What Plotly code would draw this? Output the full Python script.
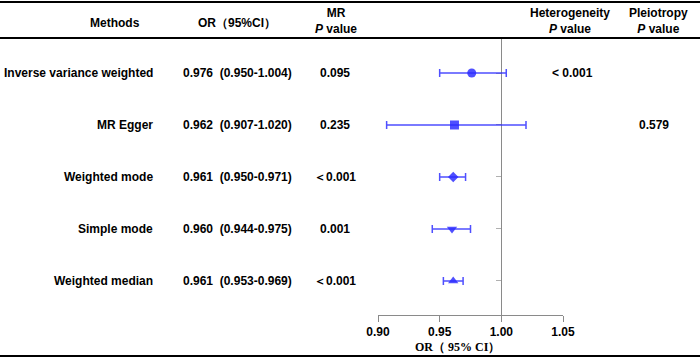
import plotly.graph_objects as go

# ---------------- data ----------------
methods = ["Inverse variance weighted", "MR Egger", "Weighted mode", "Simple mode", "Weighted median"]
or_vals = [0.976, 0.962, 0.961, 0.960, 0.961]
ci_low = [0.950, 0.907, 0.950, 0.944, 0.953]
ci_high = [1.004, 1.020, 0.971, 0.975, 0.969]
mr_p = ["0.095", "0.235", "＜0.001", "0.001", "＜0.001"]
het_p = ["< 0.001", "", "", "", ""]
pleio_p = ["", "0.579", "", "", ""]
x_ticks = [0.90, 0.95, 1.00, 1.05]
x_tick_labels = ["0.90", "0.95", "1.00", "1.05"]
ref_value = 1.00

# ---------------- layout constants ----------------
W, H = 700, 359
L, R, T, B = 378, 137, 38, 44
plot_w = W - L - R
plot_h = H - T - B
rows = list(range(1, len(methods) + 1))
y_range = [5.654, 0.327]
x_range = [0.90, 1.05]


def px_x(px):
    return (px - L) / plot_w


def px_y(py):
    return (H - B - py) / plot_h


symbols = ["circle", "square", "diamond", "triangle-down", "triangle-up"]
sizes = [9, 9, 8, 9, 9]
blue = "rgba(40,40,255,0.82)"

fig = go.Figure()
for i, m in enumerate(methods):
    fig.add_trace(go.Scatter(
        x=[or_vals[i]], y=[rows[i]], mode="markers",
        marker=dict(symbol=symbols[i], size=sizes[i], color=blue),
        error_x=dict(type="data", symmetric=False,
                     array=[ci_high[i] - or_vals[i]],
                     arrayminus=[or_vals[i] - ci_low[i]],
                     color=blue, thickness=1.5, width=4),
        showlegend=False, hoverinfo="skip"))

bold = dict(family="Arial, Liberation Sans, sans-serif", size=12, color="black")
ann = []
# headers
ann.append(dict(x=px_x(115), y=px_y(23), text="<b>Methods</b>"))
ann.append(dict(x=px_x(237), y=px_y(23), text="<b>OR（95%CI）</b>"))
ann.append(dict(x=px_x(336), y=px_y(21), text="<b>MR<br><i>P</i> value</b>"))
ann.append(dict(x=px_x(570), y=px_y(21), text="<b>Heterogeneity<br><i>P</i> value</b>"))
ann.append(dict(x=px_x(658), y=px_y(21), text="<b>Pleiotropy<br><i>P</i> value</b>"))
for a in ann:
    a.update(xref="paper", yref="paper", showarrow=False, font=bold,
             xanchor="center", yanchor="middle")

for i, m in enumerate(methods):
    common = dict(yref="y", y=rows[i], xref="paper", showarrow=False,
                  font=bold, yanchor="middle")
    ann.append(dict(x=px_x(155), text=f"<b>{m}</b>", xanchor="right", **common))
    ann.append(dict(x=px_x(237),
                    text=f"<b>{or_vals[i]:.3f}\u00a0\u00a0({ci_low[i]:.3f}-{ci_high[i]:.3f})</b>",
                    xanchor="center", **common))
    ann.append(dict(x=px_x(335), text=f"<b>{mr_p[i]}</b>", xanchor="center", **common))
    if het_p[i]:
        ann.append(dict(x=px_x(572), text=f"<b>{het_p[i]}</b>", xanchor="center", **common))
    if pleio_p[i]:
        ann.append(dict(x=px_x(654), text=f"<b>{pleio_p[i]}</b>", xanchor="center", **common))

# axis title
ann.append(dict(x=px_x(457), y=px_y(347), xref="paper", yref="paper", showarrow=False,
                text="<b>OR（ 95% CI）</b>",
                font=dict(family="Times New Roman, Liberation Serif, serif", size=12, color="black"),
                xanchor="center", yanchor="middle"))

shapes = []
for py in [2, 38, 356]:
    shapes.append(dict(type="line", xref="paper", yref="paper",
                       x0=px_x(0), x1=px_x(W), y0=px_y(py), y1=px_y(py),
                       line=dict(color="black", width=2)))

fig.update_layout(
    width=W, height=H,
    margin=dict(l=L, r=R, t=T, b=B),
    paper_bgcolor="white", plot_bgcolor="white",
    annotations=ann, shapes=shapes,
    xaxis=dict(range=x_range, tickvals=x_ticks, ticktext=x_tick_labels,
               showgrid=False, zeroline=False, showline=True, linecolor="#8a8a8a",
               linewidth=1, ticks="outside", ticklen=6, tickcolor="#8a8a8a",
               tickfont=dict(family="Arial, Liberation Sans, sans-serif", size=12,
                             color="black", weight="bold")),
    yaxis=dict(range=y_range, tickvals=rows, showticklabels=False,
               showgrid=False, zeroline=False, showline=True, linecolor="#8a8a8a",
               linewidth=1, ticks="outside", ticklen=5, tickcolor="#b0b0b0",
               anchor="free",
               position=(ref_value - x_range[0]) / (x_range[1] - x_range[0]),
               layer="below traces"),
)

fig.write_html("out.html", config={"displayModeBar": False},
               post_script="document.body.style.margin='0';document.body.style.overflow='hidden';")
